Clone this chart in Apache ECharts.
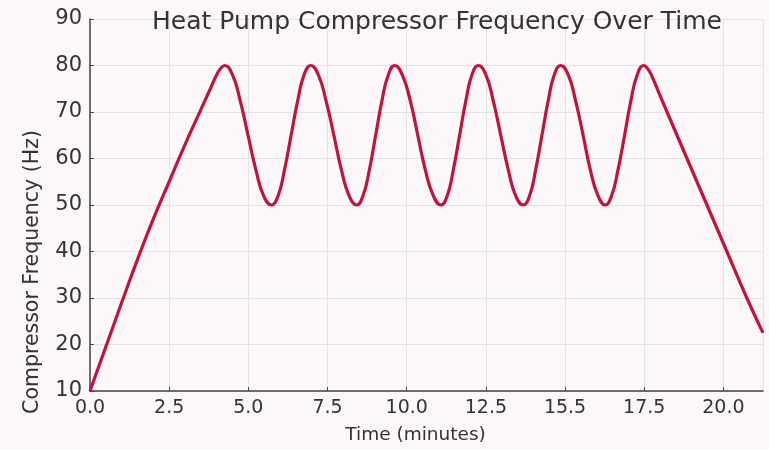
<!DOCTYPE html>
<html>
<head>
<meta charset="utf-8">
<script src="https://cdn.jsdelivr.net/npm/echarts@6/dist/echarts.min.js"></script>
<style>
html,body{margin:0;padding:0;background:#fcf8fa;}
#chart{width:769px;height:450px;}
</style>
</head>
<body>
<div id="chart"></div>
<script>
// Time in minutes
const times = [
  0, 0.5, 1.0, 1.5, 2.0, 2.5, 3.0, 3.5, 3.8, 4.0, 4.13, 4.25,
  4.50, 4.74, 4.99, 5.24, 5.48, 5.73, 5.94, 6.14, 6.35, 6.56, 6.76, 6.97,
  7.21, 7.45, 7.70, 7.94, 8.18, 8.42, 8.62, 8.82, 9.02, 9.22, 9.42, 9.62,
  9.86, 10.11, 10.35, 10.59, 10.84, 11.08, 11.28, 11.47, 11.67, 11.87, 12.06, 12.26,
  12.50, 12.73, 12.97, 13.21, 13.44, 13.68, 13.88, 14.07, 14.27, 14.47, 14.66, 14.86,
  15.10, 15.33, 15.57, 15.80, 16.04, 16.27, 16.47, 16.67, 16.88, 17.08, 17.28, 17.48,
  17.62, 17.8, 18.0, 18.22, 18.85, 19.48, 20.11, 20.74, 21.25
];
// Compressor frequency in Hz
const freqs = [
  10, 19.5, 29, 38.3, 47, 55, 63, 70.5, 75, 78, 79.4, 80,
  78, 72.5, 65, 57.5, 52, 50, 52, 57.5, 65, 72.5, 78, 80,
  78, 72.5, 65, 57.5, 52, 50, 52, 57.5, 65, 72.5, 78, 80,
  78, 72.5, 65, 57.5, 52, 50, 52, 57.5, 65, 72.5, 78, 80,
  78, 72.5, 65, 57.5, 52, 50, 52, 57.5, 65, 72.5, 78, 80,
  78, 72.5, 65, 57.5, 52, 50, 52, 57.5, 65, 72.5, 78, 80,
  79.2, 76.8, 73.5, 70, 60, 50, 40, 30, 22.5
];
// X tick labels as printed on the chart (positions 0, 2.5, ... 20)
const xTickValues = [0, 2.5, 5, 7.5, 10, 12.5, 15, 17.5, 20];
const xTickLabels = ['0.0', '2.5', '5.0', '7.5', '10.0', '12.5', '15.5', '17.5', '20.0'];
const yTicks = [10, 20, 30, 40, 50, 60, 70, 80, 90];

const titleText = 'Heat Pump Compressor Frequency Over Time';
const xName = 'Time (minutes)';
const yName = 'Compressor Frequency (Hz)';

const data = times.map((t, i) => [t, freqs[i]]);
const font = 'DejaVu Sans';

const chart = echarts.init(document.getElementById('chart'), null, {renderer: 'canvas'});
chart.setOption({
  backgroundColor: '#fcf8fa',
  animation: false,
  title: {
    text: titleText,
    left: 432, top: 5, textAlign: 'center',
    textStyle: {fontFamily: font, fontSize: 25, fontWeight: 'normal', color: '#333'}
  },
  grid: {left: 90, right: 6, top: 19, bottom: 57, containLabel: false},
  xAxis: {
    type: 'value', min: 0, max: 21.25, interval: 2.5,
    name: xName, nameLocation: 'middle', nameGap: 35,
    nameTextStyle: {fontFamily: font, fontSize: 18.5, color: '#333', padding: [0, 22, 0, 0]},
    axisLine: {show: true, lineStyle: {color: '#444', width: 1.5}},
    axisTick: {show: true, inside: true, length: 4, lineStyle: {color: '#444'}},
    axisLabel: {
      fontFamily: font, fontSize: 19, color: '#333', margin: 8, showMaxLabel: false,
      formatter: v => {
        const i = xTickValues.findIndex(x => Math.abs(x - v) < 1e-6);
        return i >= 0 ? xTickLabels[i] : '';
      }
    },
    splitLine: {show: true, lineStyle: {color: '#e6e1e4', width: 1}}
  },
  yAxis: {
    type: 'value', min: yTicks[0], max: yTicks[yTicks.length - 1], interval: 10,
    axisLine: {show: true, lineStyle: {color: '#444', width: 1.5}},
    axisTick: {show: true, inside: true, length: 4, lineStyle: {color: '#444'}},
    axisLabel: {fontFamily: font, fontSize: 21, color: '#333', margin: 8},
    splitLine: {show: true, lineStyle: {color: '#e6e1e4', width: 1}}
  },
  graphic: [{
    type: 'text', x: 33, y: 272, rotation: Math.PI / 2,
    style: {text: yName, fontFamily: font, fontSize: 20.5, fill: '#333',
            textAlign: 'center', textVerticalAlign: 'middle'}
  }],
  series: [{
    type: 'line', data: data, smooth: 0.5, showSymbol: false,
    lineStyle: {color: '#c0143e', width: 3.2}
  }]
});
</script>
</body>
</html>
